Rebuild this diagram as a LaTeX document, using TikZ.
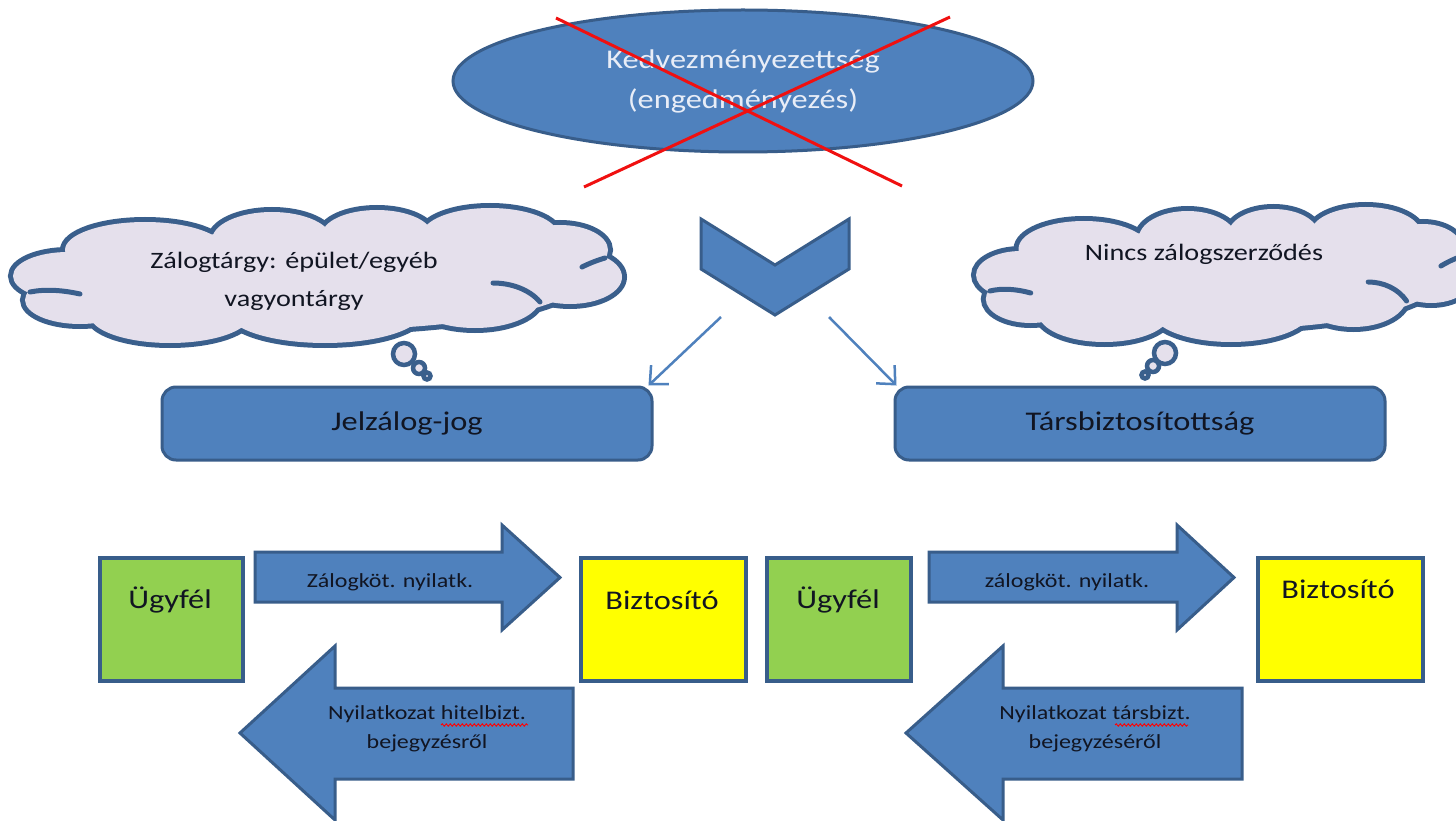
\documentclass[tikz,border=0pt]{standalone}
\usepackage{fontspec}
\setmainfont{Carlito}[FakeStretch=1.2]
\usetikzlibrary{shapes.geometric,arrows.meta,decorations.pathmorphing}
\definecolor{ofblue}{HTML}{4F81BD}
\definecolor{ofborder}{HTML}{385D8A}
\definecolor{cloudfill}{HTML}{E5E0EC}
\definecolor{cloudline}{HTML}{3A5F8C}
\definecolor{ofgreen}{HTML}{92D050}
\definecolor{ofyellow}{HTML}{FFFF00}
\definecolor{txtdark}{HTML}{111522}
\definecolor{elltxt}{HTML}{E8EDF7}
\definecolor{crossred}{HTML}{F01010}
\tikzset{
  blueshape/.style={fill=ofblue, draw=ofborder, line width=3pt},
  roundbox/.style={rectangle, rounded corners=14pt, fill=ofblue, draw=ofborder, line width=3pt,
    minimum width=490pt, minimum height=73pt, text=txtdark, font=\fontsize{27}{32}\selectfont},
  sqbox/.style={rectangle, draw=ofborder, line width=4pt, minimum height=123pt},
  boxtxt/.style={text=txtdark, font=\fontsize{27}{32}\selectfont, inner sep=0pt},
  arrtxt/.style={text=txtdark, align=center, font=\fontsize{20}{29}\selectfont, inner sep=0pt},
  cloudtxt/.style={text=txtdark, align=center, font=\fontsize{23.5}{38}\selectfont, inner sep=0pt},
  thinarr/.style={draw=ofblue, line width=2.5pt, -{Straight Barb[length=14pt,width=26pt,line width=2.5pt]}},
  crossline/.style={draw=crossred, line width=3pt},
  cloudedge/.style={draw=cloudline, line width=10pt},
  cloudinner/.style={draw=cloudline, line width=5pt, line cap=round},
  bubble/.style={fill=cloudfill, draw=cloudline, line width=4.5pt},
  squiggle/.style={draw=red, line width=0.9pt, decorate, decoration={snake, amplitude=1.2pt, segment length=4pt}}
}
\newcommand\puffs{68/276/55/24, 145/250/80/28, 272/240/60/28, 377/235/55/25, 490/235/68/27,
  560/250/48/25, 570/277/52/27, 475/298/65/30, 325/312/97/31, 170/315/80/28, 80/300/55/24, 320/280/260/50}
\newcommand\drawcloud{%
  \foreach \cx/\cy/\rx/\ry in \puffs {\draw[cloudedge] (\cx,\cy) ellipse [x radius=\rx, y radius=\ry];}
  \foreach \cx/\cy/\rx/\ry in \puffs {\fill[cloudfill] (\cx,\cy) ellipse [x radius=\rx, y radius=\ry];}
  \draw[cloudinner] (30,292) .. controls (45,289) and (62,290) .. (80,294);
  \draw[cloudinner] (540,302) .. controls (530,290) and (512,283) .. (493,283);
  \draw[cloudinner] (605,258) .. controls (598,260) and (590,263) .. (582,267);
}
\begin{document}
\begin{tikzpicture}[x=1pt,y=-1pt]
\useasboundingbox (0,0) rectangle (1456,821);
\clip (0,0) rectangle (1456,821);
\fill[white] (0,0) rectangle (1456,821);

% top ellipse with red cross
\node[ellipse, blueshape, minimum width=580pt, minimum height=142pt, text=elltxt,
      align=center, font=\fontsize{27}{40}\selectfont] (ben) at (743,81)
      {Kedvezményezettség\\(engedményezés)};
\coordinate (xa1) at (556,18);
\coordinate (xa2) at (902,186);
\coordinate (xb1) at (950,17);
\coordinate (xb2) at (584,187);
\draw[crossline] (xa1) -- (xa2);
\draw[crossline] (xb1) -- (xb2);

% chevron
\draw[blueshape] (701,219) -- (775,265) -- (849,219) -- (849,269) -- (775,315) -- (701,269) -- cycle;
\coordinate (cl) at (721,317);
\coordinate (cr) at (829,317);

% clouds
\begin{scope}
  \drawcloud
\end{scope}
\begin{scope}[shift={(965.4,-1)}, xscale=0.817]
  \drawcloud
\end{scope}
\draw[bubble] (404,354) circle [radius=11];
\draw[bubble] (419,368) circle [radius=6];
\draw[bubble] (427,376) circle [radius=3.5];
\draw[bubble] (1165,353) circle [radius=11];
\draw[bubble] (1153,366) circle [radius=6];
\draw[bubble] (1145,375) circle [radius=3.5];
\node[cloudtxt] (c1t) at (294,281) {Zálogtárgy: épület/egyéb\\vagyontárgy};
\node[cloudtxt] (c2t) at (1204,254) {Nincs zálogszerződés};

% rounded boxes
\node[roundbox] (jel) at (407,423.5) {Jelzálog-jog};
\node[roundbox] (tars) at (1140,423.5) {Társbiztosítottság};
\draw[thinarr] (cl) -- ([xshift=-5pt]jel.north east);
\draw[thinarr] (cr) -- ([xshift=3pt]tars.north west);

% squares
\node[sqbox, fill=ofgreen, minimum width=143pt] (u1) at (171.5,619.5) {};
\node[sqbox, fill=ofyellow, minimum width=165pt] (b1) at (663.5,619.5) {};
\node[sqbox, fill=ofgreen, minimum width=144pt] (u2) at (839,619.5) {};
\node[sqbox, fill=ofyellow, minimum width=165pt] (b2) at (1340.5,619.5) {};
\node[boxtxt] (u1t) at (170,600) {Ügyfél};
\node[boxtxt] (b1t) at (662,600) {Biztosító};
\node[boxtxt] (u2t) at (838,600) {Ügyfél};
\node[boxtxt] (b2t) at (1338,589) {Biztosító};

% block arrows
\draw[blueshape] (255,552) -- (502,552) -- (502,525) -- (560,577.5) -- (502,630) -- (502,602) -- (255,602) -- cycle;
\draw[blueshape] (929,552) -- (1177,552) -- (1177,525) -- (1234,577.5) -- (1177,630) -- (1177,602) -- (929,602) -- cycle;
\draw[blueshape] (573,688) -- (335,688) -- (335,646) -- (240,733) -- (335,820) -- (335,779) -- (573,779) -- cycle;
\draw[blueshape] (1242,688) -- (1003,688) -- (1003,646) -- (906,733) -- (1003,820) -- (1003,779) -- (1242,779) -- cycle;
\node[arrtxt] (a1t) at (390,582) {Zálogköt. nyilatk.};
\node[arrtxt] (a2t) at (1067,582) {zálogköt. nyilatk.};
\node[arrtxt] (a3t) at (427,728.5) {Nyilatkozat hitelbizt.\\bejegyzésről};
\node[arrtxt] (a4t) at (1095,728.5) {Nyilatkozat társbizt.\\bejegyzéséről};
\draw[squiggle] (441,725) -- (528,725);
\draw[squiggle] (1115,725) -- (1188,725);
\end{tikzpicture}
\end{document}
